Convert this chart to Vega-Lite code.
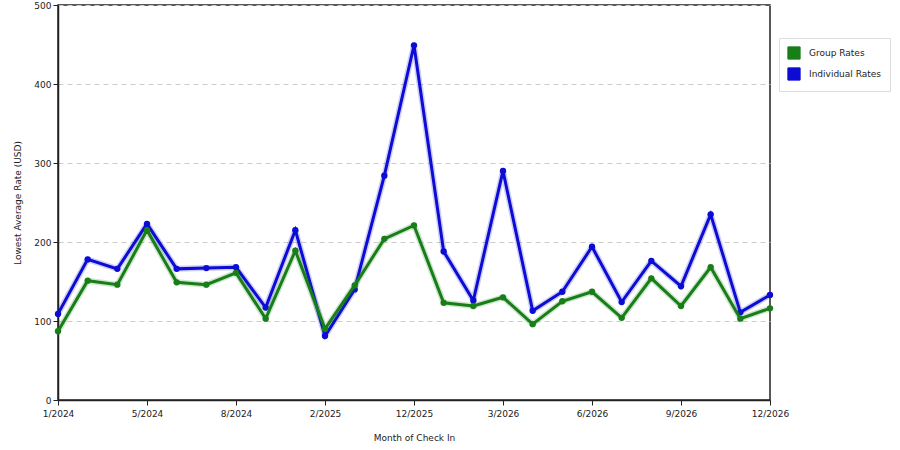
{
  "$schema": "https://vega.github.io/schema/vega-lite/v6.json",
  "width": 712,
  "height": 395,
  "autosize": {"type": "none"},
  "padding": {"left": 58, "top": 5, "right": 130, "bottom": 50},
  "background": "#ffffff",
  "data": {
    "values": [
      {"month": "1/2024", "series": "Group Rates", "rate": 87},
      {"month": "1/2024", "series": "Individual Rates", "rate": 109},
      {"month": "3/2024", "series": "Group Rates", "rate": 151},
      {"month": "3/2024", "series": "Individual Rates", "rate": 178},
      {"month": "4/2024", "series": "Group Rates", "rate": 146},
      {"month": "4/2024", "series": "Individual Rates", "rate": 166},
      {"month": "5/2024", "series": "Group Rates", "rate": 215},
      {"month": "5/2024", "series": "Individual Rates", "rate": 223},
      {"month": "6/2024", "series": "Group Rates", "rate": 149},
      {"month": "6/2024", "series": "Individual Rates", "rate": 166},
      {"month": "7/2024", "series": "Group Rates", "rate": 146},
      {"month": "7/2024", "series": "Individual Rates", "rate": 167},
      {"month": "8/2024", "series": "Group Rates", "rate": 161},
      {"month": "8/2024", "series": "Individual Rates", "rate": 168},
      {"month": "10/2024", "series": "Group Rates", "rate": 103},
      {"month": "10/2024", "series": "Individual Rates", "rate": 117},
      {"month": "12/2024", "series": "Group Rates", "rate": 189},
      {"month": "12/2024", "series": "Individual Rates", "rate": 215},
      {"month": "2/2025", "series": "Group Rates", "rate": 90},
      {"month": "2/2025", "series": "Individual Rates", "rate": 81},
      {"month": "6/2025", "series": "Group Rates", "rate": 145},
      {"month": "6/2025", "series": "Individual Rates", "rate": 140},
      {"month": "9/2025", "series": "Group Rates", "rate": 204},
      {"month": "9/2025", "series": "Individual Rates", "rate": 284},
      {"month": "12/2025", "series": "Group Rates", "rate": 221},
      {"month": "12/2025", "series": "Individual Rates", "rate": 449},
      {"month": "1/2026", "series": "Group Rates", "rate": 123},
      {"month": "1/2026", "series": "Individual Rates", "rate": 188},
      {"month": "2/2026", "series": "Group Rates", "rate": 119},
      {"month": "2/2026", "series": "Individual Rates", "rate": 126},
      {"month": "3/2026", "series": "Group Rates", "rate": 130},
      {"month": "3/2026", "series": "Individual Rates", "rate": 290},
      {"month": "4/2026", "series": "Group Rates", "rate": 96},
      {"month": "4/2026", "series": "Individual Rates", "rate": 113},
      {"month": "5/2026", "series": "Group Rates", "rate": 125},
      {"month": "5/2026", "series": "Individual Rates", "rate": 137},
      {"month": "6/2026", "series": "Group Rates", "rate": 137},
      {"month": "6/2026", "series": "Individual Rates", "rate": 194},
      {"month": "7/2026", "series": "Group Rates", "rate": 104},
      {"month": "7/2026", "series": "Individual Rates", "rate": 124},
      {"month": "8/2026", "series": "Group Rates", "rate": 154},
      {"month": "8/2026", "series": "Individual Rates", "rate": 176},
      {"month": "9/2026", "series": "Group Rates", "rate": 119},
      {"month": "9/2026", "series": "Individual Rates", "rate": 144},
      {"month": "10/2026", "series": "Group Rates", "rate": 168},
      {"month": "10/2026", "series": "Individual Rates", "rate": 235},
      {"month": "11/2026", "series": "Group Rates", "rate": 103},
      {"month": "11/2026", "series": "Individual Rates", "rate": 111},
      {"month": "12/2026", "series": "Group Rates", "rate": 116},
      {"month": "12/2026", "series": "Individual Rates", "rate": 133}
    ]
  },
  "encoding": {
    "x": {
      "field": "month",
      "type": "ordinal",
      "title": "Month of Check In",
      "scale": {
        "type": "point",
        "padding": 0,
        "domain": ["1/2024", "3/2024", "4/2024", "5/2024", "6/2024", "7/2024", "8/2024", "10/2024", "12/2024", "2/2025", "6/2025", "9/2025", "12/2025", "1/2026", "2/2026", "3/2026", "4/2026", "5/2026", "6/2026", "7/2026", "8/2026", "9/2026", "10/2026", "11/2026", "12/2026"]
      },
      "axis": {
        "values": ["1/2024", "5/2024", "8/2024", "2/2025", "12/2025", "3/2026", "6/2026", "9/2026", "12/2026"],
        "labelAngle": 0,
        "grid": false,
        "labelPadding": 4,
        "titlePadding": 15
      }
    },
    "y": {
      "field": "rate",
      "type": "quantitative",
      "title": "Lowest Average Rate (USD)",
      "scale": {"domain": [0, 500]},
      "axis": {"values": [0, 100, 200, 300, 400, 500], "titlePadding": 11}
    },
    "color": {
      "field": "series",
      "type": "nominal",
      "scale": {"domain": ["Group Rates", "Individual Rates"], "range": ["#187e18", "#0c0cd4"]},
      "legend": {
        "title": null,
        "orient": "none",
        "legendX": 721,
        "legendY": 33,
        "symbolType": "square",
        "symbolSize": 150,
        "symbolStrokeColor": "#333333",
        "symbolStrokeWidth": 1,
        "symbolOpacity": 1,
        "strokeColor": "#dddddd",
        "padding": 8,
        "rowPadding": 3,
        "labelFontSize": 9,
        "labelOffset": 8
      }
    }
  },
  "layer": [
    {
      "transform": [{"filter": "datum.series == 'Individual Rates'"}],
      "mark": {"type": "line", "strokeWidth": 6, "opacity": 0.2, "strokeJoin": "round"}
    },
    {
      "transform": [{"filter": "datum.series == 'Individual Rates'"}],
      "mark": {"type": "line", "strokeWidth": 3, "point": {"filled": true, "size": 40}}
    },
    {
      "transform": [{"filter": "datum.series == 'Group Rates'"}],
      "mark": {"type": "line", "strokeWidth": 6, "opacity": 0.2, "strokeJoin": "round"}
    },
    {
      "transform": [{"filter": "datum.series == 'Group Rates'"}],
      "mark": {"type": "line", "strokeWidth": 3, "point": {"filled": true, "size": 40}}
    }
  ],
  "config": {
    "font": "DejaVu Sans",
    "view": {"stroke": "#222222", "strokeWidth": 1.5},
    "axis": {
      "domainColor": "#222222",
      "domainWidth": 1.5,
      "tickColor": "#222222",
      "tickSize": 5,
      "labelFontSize": 9,
      "labelFont": "DejaVu Sans",
      "labelColor": "#222222",
      "titleFontSize": 9,
      "titleFontWeight": "normal",
      "titleColor": "#222222",
      "gridColor": "#cccccc",
      "gridDash": [5, 4]
    },
    "legend": {"labelColor": "#222222"}
  }
}
